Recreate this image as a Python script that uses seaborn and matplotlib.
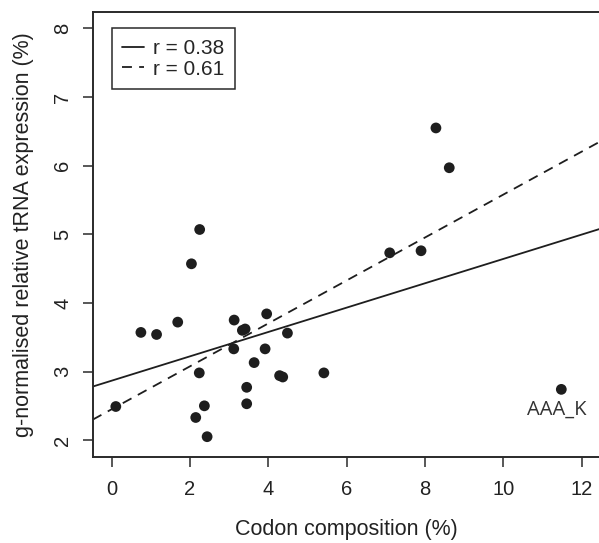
import numpy as np
import pandas as pd
import seaborn as sns
import matplotlib.pyplot as plt

# values
codon_pct = [0.11, 0.75, 1.15, 1.69, 2.04, 2.25, 2.24, 2.15, 2.37, 2.44,
             3.13, 3.12, 3.34, 3.41, 3.45, 3.45, 3.64, 3.96, 3.92, 4.49,
             4.29, 4.37, 5.42, 7.10, 7.90, 8.28, 8.62, 11.48]
trna_pct = [2.49, 3.57, 3.54, 3.72, 4.57, 5.07, 2.98, 2.33, 2.50, 2.05,
            3.75, 3.33, 3.60, 3.62, 2.77, 2.53, 3.13, 3.84, 3.33, 3.56,
            2.94, 2.92, 2.98, 4.73, 4.76, 6.55, 5.97, 2.74]
codon_names = [""] * 27 + ["AAA_K"]
outlier = "AAA_K"
r_labels = ["r = 0.38", "r = 0.61"]
x_ticks = [0, 2, 4, 6, 8, 10, 12]
y_ticks = [2, 3, 4, 5, 6, 7, 8]

df = pd.DataFrame({"codon": codon_pct, "trna": trna_pct, "name": codon_names})
df_wo = df[df["name"] != outlier]

sns.set_style("ticks")
plt.rcParams["font.family"] = ["Liberation Sans", "DejaVu Sans"]

ink = "#1e1e1e"
fig = plt.figure(figsize=(5.99, 5.43), dpi=100)
ax = fig.add_axes([92.7 / 599, 1 - 456.6 / 543, (600.5 - 92.7) / 599, (456.6 - 12) / 543])

ax.set_xlim(-0.48, 12.48)
ax.set_ylim(1.76, 8.24)

# fitted lines over the whole axis width (all codons / without AAA_K)
sns.regplot(data=df, x="codon", y="trna", ax=ax, scatter=False, ci=None,
            truncate=False, label=r_labels[0],
            line_kws=dict(color=ink, lw=1.3))
sns.regplot(data=df_wo, x="codon", y="trna", ax=ax, scatter=False, ci=None,
            truncate=False, label=r_labels[1],
            line_kws=dict(color=ink, lw=1.3, dashes=(5.5, 4)))

sns.scatterplot(data=df, x="codon", y="trna", ax=ax, color=ink, s=60,
                edgecolor="none", zorder=3)

out = df[df["name"] == outlier].iloc[0]
ax.annotate(outlier, xy=(out["codon"], out["trna"]), xytext=(-3, -14.5),
            textcoords="offset points", ha="center", va="center",
            fontsize=14.5, color="#333333", family=["Open Sans", "DejaVu Sans"])

ax.set_xlim(-0.48, 12.48)
ax.set_ylim(1.76, 8.24)
ax.set_xticks(x_ticks)
ax.set_yticks(y_ticks)
ax.set_xlabel("")
ax.set_ylabel("")

for side in ["left", "bottom", "top", "right"]:
    ax.spines[side].set_visible(True)
    ax.spines[side].set_color("#2a2a2a")
    ax.spines[side].set_linewidth(1.4)

ax.tick_params(axis="both", length=7.2, width=1.1, color="#2a2a2a",
               labelsize=14.5, labelcolor="#222222")
ax.tick_params(axis="x", pad=9.5)
ax.tick_params(axis="y", pad=7.5)
for lab in ax.get_yticklabels():
    lab.set_rotation(90)
    lab.set_va("center")

leg = ax.legend(loc="upper left", bbox_to_anchor=(0, 8), bbox_transform=ax.transData,
                borderaxespad=0, fancybox=False, framealpha=1, edgecolor="#2a2a2a",
                fontsize=15, handlelength=1.05, handletextpad=0.45,
                labelspacing=0.08, borderpad=0.5)
leg.get_frame().set_linewidth(1.1)

fig.text(346.6 / 599, 1 - 529 / 543, "Codon composition (%)", ha="center", va="center",
         fontsize=15.5, color="#222222")
fig.text(24 / 599, 1 - 235 / 543, "g-normalised relative tRNA expression (%)",
         ha="center", va="center", rotation=90, fontsize=15.5, color="#222222")

fig.savefig("out.png", dpi=100)
